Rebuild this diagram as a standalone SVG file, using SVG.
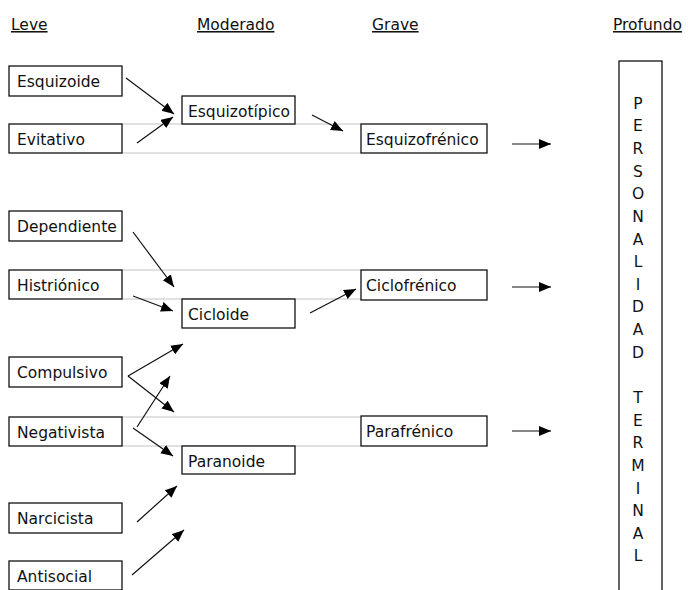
<svg xmlns="http://www.w3.org/2000/svg" width="688" height="590" viewBox="0 0 688 590">
<style>
text{font-family:"DejaVu Sans","Verdana",sans-serif;font-size:15.5px;fill:#111}
.h{text-decoration:underline}
.box{fill:#fff;stroke:#111;stroke-width:1.3}
.gl{stroke:#c4c4c4;stroke-width:1.2;fill:none}
.ar{stroke:#111;stroke-width:1.2;fill:none;marker-end:url(#ah)}
.v{text-anchor:middle}
</style>
<defs>
<marker id="ah" markerUnits="userSpaceOnUse" markerWidth="14" markerHeight="12" refX="12" refY="5" orient="auto">
<path d="M0,0 L12,5 L0,10 Z" fill="#000"/>
</marker>
</defs>
<rect width="688" height="590" fill="#fff"/>
<g id="headings">
<text class="h" x="11" y="30">Leve</text>
<text class="h" x="197" y="30">Moderado</text>
<text class="h" x="372" y="30">Grave</text>
<text class="h" x="613" y="30">Profundo</text>
</g>
<g id="guides">
<path class="gl" d="M122,124H361M122,153H361M122,270H361M122,299H361M122,417H361M122,446H361"/>
</g>
<g id="connectors">
<line class="ar" x1="126" y1="78" x2="174" y2="114"/>
<line class="ar" x1="137" y1="143" x2="173" y2="117"/>
<line class="ar" x1="312" y1="115" x2="343" y2="131"/>
<line class="ar" x1="512" y1="144" x2="551" y2="144"/>
<line class="ar" x1="133" y1="232" x2="174" y2="287"/>
<line class="ar" x1="133" y1="296" x2="173" y2="311"/>
<line class="ar" x1="310" y1="313" x2="356" y2="289"/>
<line class="ar" x1="512" y1="287" x2="551" y2="287"/>
<line class="ar" x1="128" y1="376" x2="183" y2="344"/>
<line class="ar" x1="128" y1="376" x2="174" y2="412"/>
<line class="ar" x1="137" y1="427" x2="170" y2="376"/>
<line class="ar" x1="133" y1="428" x2="173" y2="456"/>
<line class="ar" x1="512" y1="431" x2="551" y2="431"/>
<line class="ar" x1="137" y1="522" x2="177" y2="486"/>
<line class="ar" x1="132" y1="575" x2="184" y2="530"/>
</g>
<g id="esquizoide"><rect class="box" x="9" y="66" width="113" height="30"/><text x="17" y="87">Esquizoide</text></g>
<g id="evitativo"><rect class="box" x="9" y="124" width="113" height="29"/><text x="17" y="145">Evitativo</text></g>
<g id="dependiente"><rect class="box" x="9" y="211" width="113" height="30"/><text x="17" y="232">Dependiente</text></g>
<g id="histrionico"><rect class="box" x="9" y="270" width="113" height="29"/><text x="17" y="291">Histriónico</text></g>
<g id="compulsivo"><rect class="box" x="9" y="357" width="113" height="30"/><text x="17" y="378">Compulsivo</text></g>
<g id="negativista"><rect class="box" x="9" y="417" width="113" height="29"/><text x="17" y="438">Negativista</text></g>
<g id="narcicista"><rect class="box" x="9" y="503" width="113" height="30"/><text x="17" y="524">Narcicista</text></g>
<g id="antisocial"><rect class="box" x="9" y="561" width="113" height="29"/><text x="17" y="582">Antisocial</text></g>
<g id="esquizotipico"><rect class="box" x="182" y="96" width="113" height="28"/><text x="188" y="117">Esquizotípico</text></g>
<g id="cicloide"><rect class="box" x="182" y="299" width="113" height="29"/><text x="188" y="320">Cicloide</text></g>
<g id="paranoide"><rect class="box" x="182" y="446" width="113" height="28"/><text x="188" y="467">Paranoide</text></g>
<g id="esquizofrenico"><rect class="box" x="361" y="124" width="126" height="29"/><text x="366" y="145">Esquizofrénico</text></g>
<g id="ciclofrenico"><rect class="box" x="361" y="270" width="126" height="30"/><text x="366" y="291">Ciclofrénico</text></g>
<g id="parafrenico"><rect class="box" x="361" y="416" width="126" height="30"/><text x="366" y="437">Parafrénico</text></g>
<g id="personalidad-terminal">
<rect class="box" x="619" y="61" width="43" height="540"/>
<text class="v" x="638" y="109">P</text>
<text class="v" x="638" y="131">E</text>
<text class="v" x="638" y="154">R</text>
<text class="v" x="638" y="177">S</text>
<text class="v" x="638" y="199">O</text>
<text class="v" x="638" y="222">N</text>
<text class="v" x="638" y="245">A</text>
<text class="v" x="638" y="267">L</text>
<text class="v" x="638" y="290">I</text>
<text class="v" x="638" y="312">D</text>
<text class="v" x="638" y="335">A</text>
<text class="v" x="638" y="358">D</text>
<text class="v" x="638" y="403">T</text>
<text class="v" x="638" y="426">E</text>
<text class="v" x="638" y="448">R</text>
<text class="v" x="638" y="471">M</text>
<text class="v" x="638" y="494">I</text>
<text class="v" x="638" y="516">N</text>
<text class="v" x="638" y="539">A</text>
<text class="v" x="638" y="561">L</text>
</g>
</svg>
